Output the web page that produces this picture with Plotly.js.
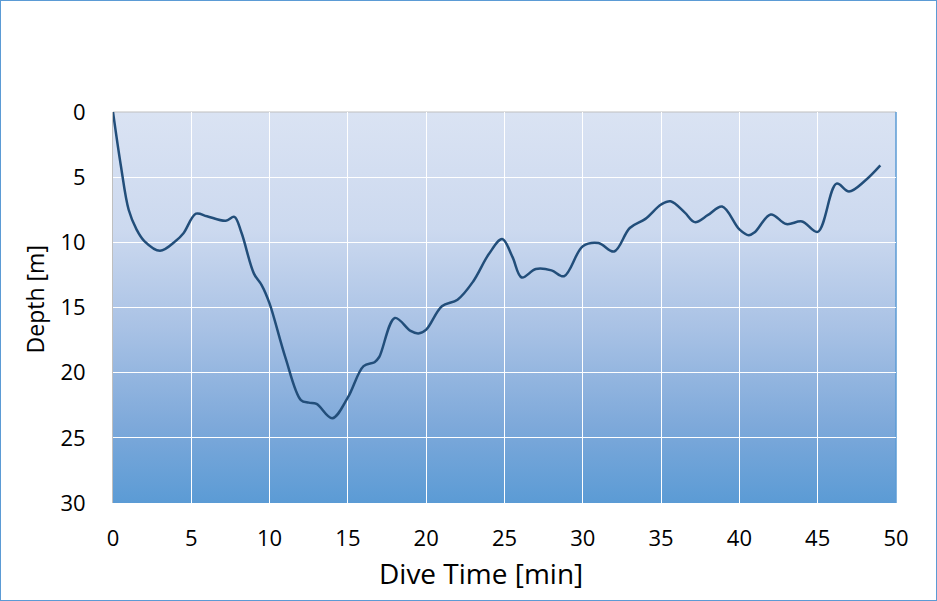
<!DOCTYPE html>
<html>
<head>
<meta charset="utf-8">
<script src="https://cdn.plot.ly/plotly-3.0.1.min.js"></script>
<style>
  html, body { margin: 0; padding: 0; background: #ffffff; }
  #wrap { width: 937px; height: 601px; box-sizing: border-box; border: 1px solid #5B9BD5; background: #fff; }
  #chart { width: 935px; height: 599px; }
</style>
</head>
<body>
<div id="wrap"><div id="chart"></div></div>
<script>
// Dive profile: time [min] and depth [m]
const diveTime = [0, 0.5, 1, 1.5, 2, 3, 4, 4.5, 5.3, 6, 7.2, 7.75, 8.2, 9, 9.5, 10, 11, 12, 12.5, 13, 14, 15, 16, 16.7, 17, 18, 19, 19.5, 20, 21, 22, 23, 24, 24.85, 25.5, 26.1, 27, 28, 28.8, 30, 31, 32, 33, 34, 35, 35.6, 36.5, 37.15, 38, 38.9, 40, 40.6, 41, 42, 43, 44, 45, 46.2, 47, 48, 49];
const depth    = [0, 4.1, 7.5, 9.0, 9.9, 10.65, 9.9, 9.3, 7.8, 8.0, 8.35, 8.05, 9.25, 12.4, 13.3, 14.7, 18.8, 22.1, 22.3, 22.4, 23.5, 21.9, 19.5, 19.2, 18.8, 15.8, 16.8, 17.0, 16.7, 14.9, 14.4, 13.0, 10.9, 9.75, 11.1, 12.7, 12.05, 12.15, 12.6, 10.3, 10.05, 10.7, 8.9, 8.2, 7.1, 6.85, 7.7, 8.45, 7.9, 7.25, 9.0, 9.45, 9.2, 7.86, 8.6, 8.4, 9.2, 5.5, 6.1, 5.3, 4.1];

const xTicks = [0, 5, 10, 15, 20, 25, 30, 35, 40, 45, 50];
const yTicks = [0, 5, 10, 15, 20, 25, 30];
const xTitle = 'Dive Time [min]';
const yTitle = 'Depth [m]';

const FONT = '"Open Sans", "Noto Sans", sans-serif';

const grad = "<svg xmlns='http://www.w3.org/2000/svg' width='100' height='100' preserveAspectRatio='none'>" +
  "<defs><linearGradient id='g' x1='0' y1='0' x2='0' y2='1'>" +
  "<stop offset='0' stop-color='#dae3f3'/>" +
  "<stop offset='0.3' stop-color='#ccd9ef'/>" +
  "<stop offset='0.55' stop-color='#a9c2e5'/>" +
  "<stop offset='0.8' stop-color='#7ea9da'/>" +
  "<stop offset='1' stop-color='#5b9bd5'/>" +
  "</linearGradient></defs><rect x='0' y='0' width='100' height='100' fill='url(#g)'/></svg>";

const trace = {
  x: diveTime,
  y: depth,
  type: 'scatter',
  mode: 'lines',
  line: { color: '#224e7a', width: 2.5, shape: 'spline', smoothing: 1 },
  hoverinfo: 'x+y'
};

const layout = {
  width: 935,
  height: 599,
  margin: { l: 112, r: 40, t: 111, b: 97 },
  paper_bgcolor: '#ffffff',
  plot_bgcolor: 'rgba(0,0,0,0)',
  showlegend: false,
  font: { family: FONT, size: 22, color: '#000000' },
  xaxis: {
    range: [0, 50],
    tickvals: xTicks,
    ticktext: xTicks.map(String),
    showgrid: true,
    gridcolor: '#ffffff',
    gridwidth: 1,
    zeroline: false,
    showline: false,
    ticks: 'outside',
    ticklen: 16,
    tickcolor: 'rgba(0,0,0,0)',
    tickfont: { family: FONT, size: 22, color: '#000000' }
  },
  yaxis: {
    range: [30, 0],
    tickvals: yTicks,
    ticktext: yTicks.map(String),
    showgrid: true,
    gridcolor: '#ffffff',
    gridwidth: 1,
    zeroline: false,
    showline: true,
    linecolor: '#bfbfbf',
    linewidth: 1,
    ticks: 'outside',
    ticklen: 22,
    tickcolor: 'rgba(0,0,0,0)',
    tickfont: { family: FONT, size: 22, color: '#000000' }
  },
  images: [{
    source: 'data:image/svg+xml;base64,' + btoa(grad),
    xref: 'paper', yref: 'paper',
    x: 0, y: 1, sizex: 1, sizey: 1,
    xanchor: 'left', yanchor: 'top',
    sizing: 'stretch',
    layer: 'below'
  }],
  shapes: [
    { type: 'line', xref: 'paper', yref: 'paper', x0: 0, x1: 1, y0: 1, y1: 1, line: { color: '#bfbfbf', width: 1 }, layer: 'below' },
    { type: 'line', xref: 'paper', yref: 'paper', x0: 1, x1: 1, y0: 0, y1: 1, line: { color: '#5b9bd5', width: 1.5 }, layer: 'below' }
  ],
  annotations: [
    {
      text: xTitle, xref: 'paper', yref: 'paper',
      x: 0.47, y: -0.18, xanchor: 'center', yanchor: 'middle',
      showarrow: false, font: { family: FONT, size: 28, color: '#000000' }
    },
    {
      text: yTitle, xref: 'paper', yref: 'paper',
      x: -0.1, y: 0.52, xanchor: 'center', yanchor: 'middle', textangle: -90,
      showarrow: false, font: { family: FONT, size: 23, color: '#000000' }
    }
  ]
};

Plotly.newPlot('chart', [trace], layout, { displayModeBar: false, staticPlot: false });
</script>
</body>
</html>
